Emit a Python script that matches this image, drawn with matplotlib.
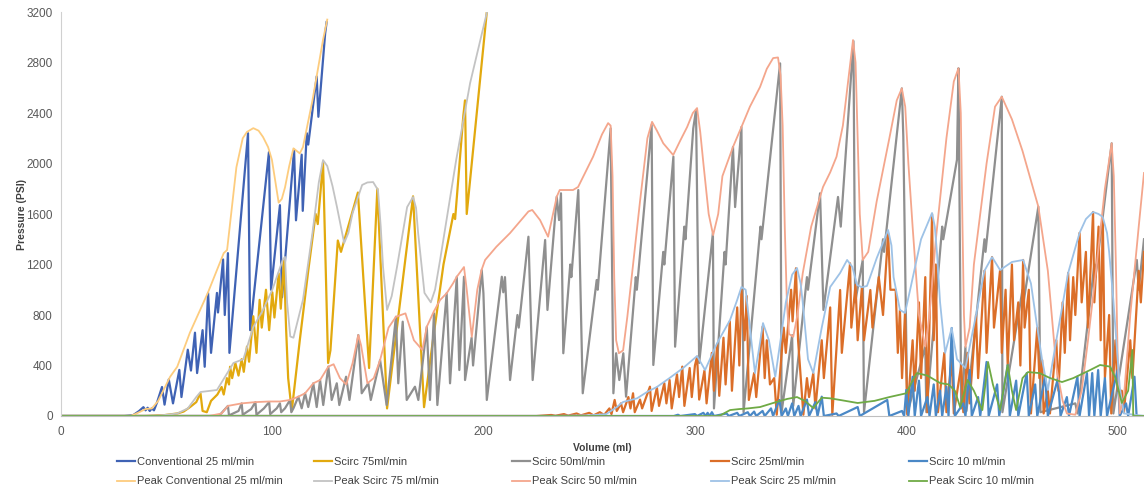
import matplotlib.pyplot as plt

# (volume ml, pressure psi)
conv_25 = [(0, 0), (30, 0), (34, 5), (37, 40), (39, 70), (40, 45), (41, 65), (42, 40), (43, 60), (44, 45),
           (45.5, 110), (47.8, 230), (49, 90), (51, 290), (53, 100), (56, 365), (57, 150), (60, 525), (61.5, 360),
           (63.4, 660), (64.4, 340), (67, 680), (68, 390), (69.6, 975), (71, 500), (73.8, 975), (74.3, 820),
           (76.7, 1240), (77.5, 800), (79, 1290), (79.7, 500), (88.5, 2240), (89.5, 680), (98.4, 2090), (99.4, 1000),
           (103.6, 1670), (104.6, 940), (110.3, 2110), (111.2, 1550), (113.9, 2070), (114.4, 1625), (116.3, 2240),
           (117, 2150), (121, 2690), (121.8, 2370), (125, 3030), (125.7, 3120)]

scirc_75 = [(0, 0), (40, 0), (48, 5), (55, 20), (58, 35), (61, 70), (64, 110), (66, 180), (67, 40), (69, 30),
            (71, 120), (74, 170), (76, 230), (77, 170), (78.5, 300), (79.5, 250), (80, 390), (81, 300), (82.5, 420),
            (84, 320), (85.5, 450), (86.5, 350), (88, 550), (89, 430), (91, 790), (92.5, 500), (94, 920), (95, 700),
            (97, 1000), (98.5, 680), (100, 980), (101, 780), (103, 1130), (104, 850), (105.5, 1230), (106.5, 700),
            (107.5, 300), (109.2, 40), (113, 600), (117, 1150), (120.5, 1600), (121.5, 1520), (124, 2010),
            (126.4, 420), (127.5, 520), (131, 1390), (132.5, 1300), (140.5, 1770), (145.8, 380), (149.7, 1800),
            (154.3, 60), (166.6, 1740), (171.8, 70), (176, 600), (181, 1200), (185.7, 1600), (186.5, 1560),
            (190.4, 2380), (191.2, 2500), (192, 1600), (201.5, 3200)]

scirc_50 = [(0, 0), (72, 0), (75, 5), (79, 80), (79.5, 5), (84, 40), (85.5, 100), (86, 10), (90, 55), (92, 110),
            (92.5, 10), (96, 60), (98.5, 110), (99, 15), (102.1, 61), (103.6, 100), (104.2, 30), (106, 61),
            (108.4, 127), (109, 30), (110, 61), (112.3, 153), (113.9, 61), (115.5, 180), (117, 71), (119.4, 259),
            (121, 71), (122.6, 285), (124.1, 87), (126.5, 391), (128.1, 127), (130.5, 259), (131.7, 87),
            (134.9, 311), (136.5, 127), (140.7, 641), (142.3, 180), (145.4, 259), (146.6, 127), (151, 443),
            (154.1, 87), (158.5, 786), (159.6, 259), (161.7, 747), (163.6, 127), (167.5, 232), (169.1, 127),
            (173.1, 707), (174.6, 127), (176.5, 813), (178.1, 87), (182.5, 972), (184.1, 259), (187.3, 1103),
            (188.5, 364), (190.7, 1103), (191.2, 285), (194.3, 620), (195, 400), (199.1, 1156), (199.9, 972),
            (201.5, 127), (208.6, 1103), (209.3, 980), (210.1, 1100), (212.5, 285), (216, 800), (216.6, 700),
            (221.2, 1420), (223.2, 285), (229.1, 1394), (230.2, 840), (234.6, 1737), (235.7, 1552), (236.6, 1764),
            (237.7, 497), (241, 1200), (241.5, 1100), (244.8, 1790), (246.9, 180), (253.5, 1077), (254, 1000),
            (260.1, 2278), (261.4, 180), (262.7, 497), (264.2, 285), (266.1, 497), (267.4, 153), (272, 1100),
            (272.5, 1000), (279.5, 2305), (280.3, 404), (285, 1300), (285.5, 1200), (289.8, 2054), (290.6, 549),
            (295, 1500), (295.5, 1400), (299.2, 2278), (300.5, 2423), (302, 420), (308.5, 1450), (309, 60),
            (314, 1300), (314.5, 1200), (318, 2131), (319, 1655), (322, 2289), (323, 30), (331, 1500),
            (331.5, 1400), (340.3, 2793), (341, 30), (346, 640), (346.5, 80), (353, 1100), (353.5, 1000),
            (359.2, 1764), (360.8, 840), (367.7, 1735), (369, 1500), (375, 2970), (375.8, 900), (379.4, 1236),
            (380, 30), (389, 1400), (389.5, 1300), (397.9, 2595), (398.6, 2212), (400.5, 20), (409, 550),
            (409.5, 30), (417, 1500), (417.5, 1400), (424, 2030), (424.7, 2754), (426, 60), (428, 547), (428.5, 40),
            (437, 1400), (437.5, 1300), (445.2, 2529), (445.5, 30), (455, 1000), (455.5, 900), (462.5, 1658),
            (463.5, 30), (480, 100), (481, 20), (489, 1200), (489.5, 1100), (497.2, 2160), (498, 20),
            (509.1, 1236), (510, 1000), (512.5, 1400)]

scirc_25 = [(0, 0), (225, 0), (232, 8), (234, 2), (238, 15), (240, 3), (244, 20), (246, 5), (250, 25), (252, 5),
            (255, 30), (257, 8), (259.5, 60), (260.5, 15), (262, 127), (263, 40), (265, 100), (266, 30),
            (268.5, 150), (269.5, 60), (270.7, 180), (271.5, 30), (274, 130), (275, 60), (278.7, 232), (279.5, 40),
            (282, 225), (283, 80), (285.5, 260), (286.5, 100), (288, 285), (289, 60), (291.5, 330), (292.5, 150),
            (294, 391), (295, 80), (297.5, 380), (298.5, 150), (300, 400), (301, 470), (302, 130), (304.5, 360),
            (305.5, 100), (308, 500), (309, 200), (310.5, 570), (311.5, 160), (313.5, 620), (314.5, 250),
            (316.5, 750), (317.5, 200), (320, 860), (321, 400), (322, 1000), (323.5, 600), (324.5, 950),
            (325.5, 127), (328, 340), (329, 150), (332, 707), (333, 300), (334, 600), (335.5, 250), (337.5, 300),
            (338.7, 10), (342, 700), (343, 500), (345.5, 1000), (346.2, 750), (347.8, 1170), (348.8, 600),
            (351.3, 10), (353, 300), (354, 150), (356, 340), (357, 60), (360, 600), (361, 300), (364, 860),
            (365, 10), (368.7, 998), (369.5, 500), (373.4, 1209), (374, 700), (376, 1038), (377, 600),
            (379, 1020), (380, 600), (383, 998), (384, 700), (387, 1100), (389, 800), (391.4, 1449), (392.5, 1000),
            (395, 1000), (396, 500), (397, 840), (398, 300), (399.4, 816), (400.5, 10), (403, 600), (404, 200),
            (406, 900), (407, 300), (409, 1100), (410, 30), (412.2, 1600), (413, 600), (414, 1200), (415, 30),
            (418, 500), (419, 30), (421.5, 450), (422.5, 20), (426, 400), (427, 30), (429, 500), (430, 100),
            (433, 800), (434, 300), (437, 1150), (438, 500), (440.6, 1259), (441.5, 700), (444.4, 1156),
            (445.2, 500), (447, 1000), (448, 400), (450, 1200), (451, 600), (453, 900), (454, 400), (455.3, 1236),
            (456, 700), (458, 1000), (459, 20), (462, 700), (463, 300), (464.3, 443), (465, 20), (467, 200),
            (468, 20), (471, 600), (472, 200), (474, 900), (475, 500), (476.6, 1133), (477.5, 600), (479, 1100),
            (480, 800), (482, 1450), (483, 900), (485, 1300), (486, 700), (488.4, 1616), (489, 900), (491, 1500),
            (492, 600), (493, 1576), (494, 300), (496, 800), (497, 20), (499, 600), (500, 200), (502, 200),
            (503, 30), (506, 600), (507, 300), (510, 1150), (511, 900), (512.5, 1300)]

scirc_10 = [(0, 0), (290, 0), (292, 10), (293, 0), (300, 15), (301, 0), (304, 25), (305, 0), (306, 25), (307, 0),
            (308, 30), (309, 0), (315, 20), (316, 0), (320, 25), (321, 0), (325, 30), (326, 0), (328, 35), (329, 0),
            (332, 40), (333, 0), (336, 60), (337, 0), (339, 90), (340, 127), (341, 0), (343, 60), (344, 0),
            (346, 100), (347, 0), (349, 80), (350, 0), (353, 130), (354, 0), (357, 110), (358, 0), (360, 153),
            (361, 0), (367, 20), (368, 0), (377, 71), (378, 0), (391, 127), (392, 0), (398, 40), (399, 0),
            (400, 206), (401, 0), (403, 311), (404, 0), (406, 280), (407, 0), (410, 150), (411, 0), (413, 250),
            (414, 0), (416, 200), (417, 0), (419, 232), (420, 0), (421.5, 697), (423, 0), (427, 100), (428, 0),
            (430, 364), (431, 0), (434, 150), (435, 0), (438, 428), (439, 0), (443, 250), (444, 0), (448, 404),
            (449, 0), (452, 280), (453, 0), (457, 340), (458, 0), (461, 250), (462, 0), (465.7, 311), (467, 0),
            (471.8, 300), (473, 0), (476, 150), (477, 0), (481, 311), (482, 0), (485.5, 340), (486.5, 0),
            (488, 340), (489, 0), (490.8, 364), (492, 0), (494, 300), (495, 0), (500, 364), (501, 0), (504, 100),
            (505, 0), (508, 311), (509, 0), (512.5, 0)]

peak_conv_25 = [(0, 0), (33, 0), (37, 30), (40, 55), (43, 60), (46, 120), (51.6, 310), (55, 390), (61, 660),
                (69.6, 980), (77, 1290), (78.6, 1315), (83, 1970), (86, 2200), (88, 2250), (91, 2280), (93.5, 2260),
                (95.6, 2210), (98, 2130), (99.8, 2030), (101.5, 1850), (103, 1690), (104.5, 1720), (106, 1810),
                (108, 1980), (110, 2120), (113, 2080), (114.5, 2130), (119, 2500), (124, 2980), (126, 3140)]

peak_75 = [(0, 0), (45, 0), (55, 20), (60, 60), (64, 150), (66, 190), (73.8, 206), (76.7, 285), (81.6, 420),
           (86.3, 450), (91, 705), (95.6, 840), (100, 1000), (105, 1240), (106, 1260), (107, 900), (108.5, 630),
           (110, 620), (114.5, 920), (119, 1450), (122, 1850), (124, 2027), (126, 1980), (128.5, 1820),
           (130.6, 1655), (134, 1370), (136, 1450), (138, 1608), (142.5, 1830), (145, 1850), (147.7, 1853),
           (150, 1790), (151.3, 1500), (152.4, 1180), (154.3, 840), (156.5, 950), (159, 1180), (163.8, 1655),
           (166.6, 1735), (168, 1650), (169, 1450), (172, 975), (175, 900), (177, 1000), (179.4, 1236),
           (187, 2027), (193.6, 2637), (201.6, 3200)]

peak_50 = [(0, 0), (70, 0), (76, 20), (79, 80), (85.5, 100), (92, 110), (98.5, 115), (103.6, 115), (108.4, 127),
           (112.3, 153), (115.5, 180), (119.4, 259), (122.6, 285), (126.5, 391), (129, 410), (132, 300), (135, 250),
           (138, 420), (140.7, 641), (142, 560), (145, 259), (148, 300), (151, 443), (155, 700), (158.5, 786),
           (163, 813), (167, 600), (171, 523), (173.1, 707), (176.5, 830), (179.4, 919), (182.5, 972),
           (185.5, 1050), (187.3, 1103), (190.7, 1180), (192, 1000), (194.4, 627), (197, 1000), (199, 1156),
           (200.7, 1236), (206, 1340), (212.5, 1449), (221.2, 1620), (223, 1632), (226.7, 1552), (230.5, 1420),
           (234.6, 1737), (236, 1790), (242.3, 1790), (244.7, 1814), (251.8, 2054), (256, 2230), (258.9, 2320),
           (260.1, 2300), (261, 1900), (261.8, 1100), (262.7, 600), (264, 497), (266, 520), (268, 786), (274, 1700),
           (277.5, 2200), (279.7, 2330), (282, 2260), (285, 2160), (289.7, 2067), (293, 2180), (296.3, 2289),
           (299, 2400), (301, 2439), (302.5, 2250), (304, 2000), (306.5, 1600), (308.6, 1433), (311, 1600),
           (313, 1900), (318, 2131), (322, 2289), (326, 2450), (330.8, 2606), (334, 2750), (337, 2835),
           (339.3, 2840), (340.5, 2700), (341.5, 2300), (342.5, 1500), (343.5, 900), (344.5, 650), (346.5, 627),
           (348.5, 800), (351, 1130), (355, 1500), (360.6, 1814), (364, 1930), (367, 2054), (370, 2300),
           (372.5, 2650), (374.8, 2978), (376, 2800), (377, 2200), (378, 1600), (379.4, 1236), (382, 1300),
           (386, 1700), (392, 2200), (395.5, 2500), (397.9, 2595), (399.5, 2450), (401, 2000), (403, 1500),
           (406, 800), (409, 550), (411, 800), (414, 1400), (419, 2200), (422.5, 2650), (424.7, 2754),
           (425.8, 2400), (426.6, 1500), (427.3, 800), (428, 547), (430, 700), (432, 1200), (438, 2000),
           (442, 2450), (445.2, 2529), (450, 2350), (455, 2100), (462.5, 1658), (467, 1150), (471, 388),
           (474, 120), (476, 20), (480, 10), (483, 200), (486, 600), (490, 1180), (494, 1800), (497.2, 2160),
           (498.2, 1900), (499.2, 1200), (500, 500), (501, 20), (503, 150), (506, 800), (510, 1500),
           (512.5, 1925)]

peak_25 = [(0, 0), (230, 0), (250, 5), (258, 15), (263, 71), (266, 111), (272.6, 140), (277.3, 190), (282, 230),
           (288, 301), (294.4, 380), (301, 475), (304.8, 364), (310.5, 578), (316.6, 760), (320, 920), (322, 1022),
           (324, 1000), (326, 700), (328.4, 340), (330.5, 550), (332.2, 736), (335, 600), (338, 311), (340.5, 600),
           (343, 900), (346, 1120), (348.3, 1172), (350, 1050), (351, 900), (353.5, 450), (356, 340), (360, 700),
           (364, 1022), (368.7, 1133), (372, 1236), (374.5, 1180), (376.7, 1038), (379, 1020), (381.4, 1030),
           (386, 1250), (391.4, 1473), (393, 1350), (394, 1100), (397, 840), (399.4, 816), (401.8, 998),
           (407, 1400), (412.2, 1608), (413.5, 1500), (414.5, 1300), (416, 900), (418.4, 500), (421.5, 697),
           (424, 450), (428, 380), (433, 800), (437, 1150), (440.6, 1259), (444.4, 1156), (450, 1220),
           (455.3, 1236), (459, 1050), (462, 700), (464.3, 443), (467, 206), (471, 600), (476.6, 1133),
           (482, 1450), (485, 1560), (488.4, 1616), (491, 1600), (493, 1576), (495, 1450), (496, 1300),
           (498, 919), (501, 232), (503, 20), (512.5, 0)]

peak_10 = [(0, 0), (310, 0), (312, 5), (316.6, 47), (321, 55), (325, 60), (330.8, 71), (337, 103), (343.6, 135),
           (348.3, 150), (352, 120), (356, 63), (360, 145), (364, 140), (368.7, 127), (377, 103), (385, 120),
           (392, 150), (400, 180), (403, 280), (405, 340), (410, 320), (416, 261), (420, 250), (423, 200),
           (425.5, 71), (429, 285), (432, 200), (436, 47), (438.7, 428), (441, 250), (444.4, 47), (448, 404),
           (450, 200), (452, 47), (455, 300), (457.6, 348), (463, 340), (468, 301), (473.7, 269), (479, 300),
           (487, 364), (491.7, 404), (496.5, 391), (499, 300), (502, 103), (505, 200), (507, 523), (507.4, 0),
           (512.5, 0)]

series = [
    ('Conventional 25 ml/min', conv_25, '#3F62B4', 1.6),
    ('Scirc 75ml/min', scirc_75, '#E2A90E', 1.6),
    ('Scirc 50ml/min', scirc_50, '#8F8F8F', 1.6),
    ('Scirc 25ml/min', scirc_25, '#DB6E28', 1.6),
    ('Scirc 10 ml/min', scirc_10, '#4A88C6', 1.6),
    ('Peak Conventional 25 ml/min', peak_conv_25, '#FDCC7E', 1.3),
    ('Peak Scirc 75 ml/min', peak_75, '#C3C3C3', 1.3),
    ('Peak Scirc 50 ml/min', peak_50, '#F4A68C', 1.3),
    ('Peak Scirc 25 ml/min', peak_25, '#9EC2E6', 1.3),
    ('Peak Scirc 10 ml/min', peak_10, '#6FAA45', 1.3),
]

plt.rcParams['font.family'] = ['Liberation Sans', 'DejaVu Sans']

fig = plt.figure(figsize=(11.44, 4.90), dpi=100)
ax = fig.add_axes([61 / 1144, 1 - 416 / 490, 1 - 61 / 1144, (416 - 12) / 490])

handles = []
for name, pts, col, lw in series:
    xs, ys = zip(*pts)
    ln, = ax.plot(xs, ys, color=col, lw=lw, label=name, solid_joinstyle='round')
    handles.append(ln)

ax.set_xlim(0, 512.5)
ax.set_ylim(0, 3200)
ax.set_xticks([0, 100, 200, 300, 400, 500])
ax.set_yticks(range(0, 3201, 400))
ax.tick_params(length=0, labelsize=8.5, labelcolor='#595959')
ax.tick_params(axis='y', pad=6)
ax.tick_params(axis='x', pad=7)
for s in ['top', 'right']:
    ax.spines[s].set_visible(False)
ax.spines['left'].set_color('#D0D0D0')
ax.spines['bottom'].set_color('#BFBFBF')

ax.set_xlabel('Volume (ml)', fontsize=7.5, fontweight='bold', color='#404040', labelpad=4)
ax.set_ylabel('Pressure (PSI)', fontsize=7.5, fontweight='bold', color='#404040')
ax.yaxis.set_label_coords(-34 / 1083, 0.5)

# legend: five columns, Excel spaces them evenly
col_x = [117, 314, 512, 711, 909]
for i in range(5):
    h = [handles[i], handles[i + 5]]
    fig.legend(h, [l.get_label() for l in h], loc='upper left',
               bbox_to_anchor=(col_x[i] / 1144, 1 - 457 / 490), frameon=False,
               fontsize=8, handlelength=1.6, handletextpad=0.2, labelspacing=0.85,
               borderpad=0, borderaxespad=0, labelcolor='#404040')

fig.savefig('out.png', dpi=100)
